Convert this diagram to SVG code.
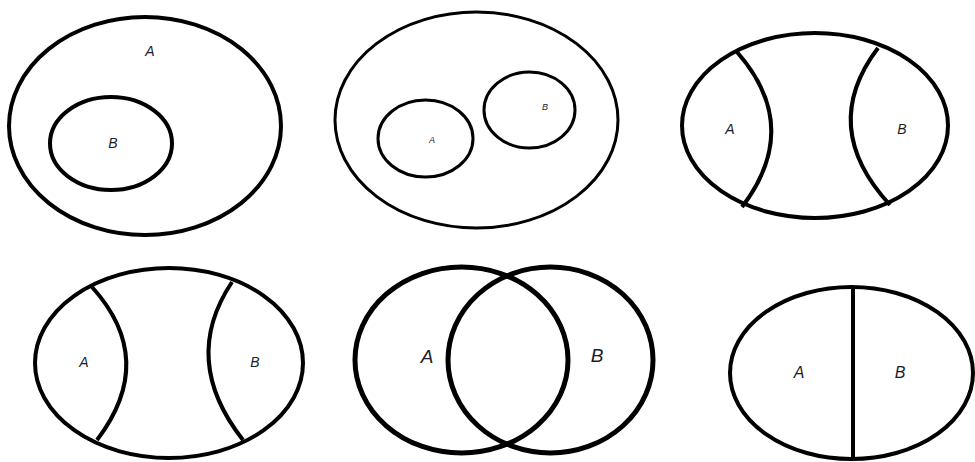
<svg xmlns="http://www.w3.org/2000/svg" width="975" height="462" viewBox="0 0 975 462">
<style>
.s{fill:none;stroke:#000;stroke-width:4}
.t{stroke-width:3}
.k{stroke-width:5}
text{font-family:"Liberation Sans",Arial,sans-serif;font-style:italic;fill:#1c1c2a;text-anchor:middle;dominant-baseline:central}
</style>
<rect width="975" height="462" fill="#fff"/>
<g id="d1">
<ellipse class="s" cx="145" cy="126" rx="136" ry="109"/>
<ellipse class="s" cx="111" cy="143.5" rx="61" ry="46.5"/>
<text x="150" y="51" font-size="14">A</text>
<text x="113" y="143" font-size="14">B</text>
</g>
<g id="d2">
<ellipse class="s t" cx="476.5" cy="120" rx="141.5" ry="108"/>
<ellipse class="s t" cx="425.5" cy="138.5" rx="47.5" ry="38.5"/>
<ellipse class="s t" cx="529.5" cy="110" rx="45.5" ry="38"/>
<text x="432" y="140" font-size="9">A</text>
<text x="545" y="107" font-size="9">B</text>
</g>
<g id="d3">
<ellipse class="s" cx="815" cy="125.5" rx="133" ry="92.5"/>
<path class="s" d="M737 52 Q803 127 742 207"/>
<path class="s" d="M878 48 Q818 127 890 205"/>
<text x="730" y="129" font-size="14">A</text>
<text x="902" y="129" font-size="14">B</text>
</g>
<g id="d4">
<ellipse class="s" cx="169" cy="363" rx="134" ry="95"/>
<path class="s" d="M92 287 Q158 360 97 440"/>
<path class="s" d="M232 282 Q180 360 243 440"/>
<text x="84" y="362" font-size="14">A</text>
<text x="255" y="362" font-size="14">B</text>
</g>
<g id="d5">
<ellipse class="s k" cx="461.5" cy="360" rx="106.5" ry="93"/>
<ellipse class="s k" cx="550.5" cy="360" rx="102.5" ry="93"/>
<text x="427" y="356" font-size="19">A</text>
<text x="597" y="355" font-size="19">B</text>
</g>
<g id="d6">
<ellipse class="s" cx="851.5" cy="373" rx="121.5" ry="86"/>
<line class="s" x1="853" y1="287" x2="853" y2="459"/>
<text x="799" y="372" font-size="16">A</text>
<text x="900" y="372" font-size="16">B</text>
</g>
</svg>
